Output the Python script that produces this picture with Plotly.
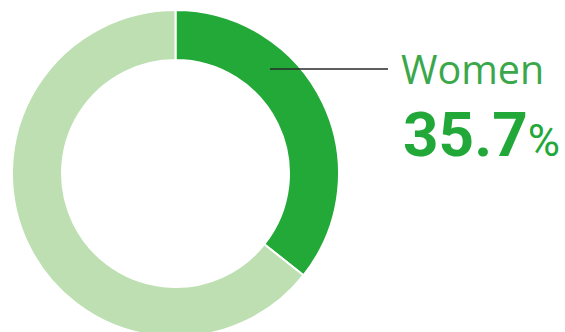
import plotly.graph_objects as go

# Share of women vs. men (percent)
labels = ["Women", "Men"]
shares = [35.7, 64.3]
slice_colors = ["#23a938", "#bddfb1"]

W, H = 565, 340

def px_x(x):
    return x / W

def px_y(y):
    return 1 - y / H

# Donut geometry in pixels
cx, cy, r_out, r_in = 175.5, 173.5, 163.5, 113.5

fig = go.Figure(
    go.Pie(
        labels=labels,
        values=shares,
        hole=r_in / r_out,
        sort=False,
        direction="clockwise",
        rotation=0,
        marker=dict(colors=slice_colors, line=dict(color="white", width=2)),
        textinfo="none",
        hoverinfo="label+percent",
        domain=dict(x=[px_x(cx - r_out), px_x(cx + r_out)],
                    y=[px_y(cy + r_out), px_y(cy - r_out)]),
        showlegend=False,
    )
)

# Leader line from the women slice to its label
fig.add_shape(type="line", xref="paper", yref="paper",
              x0=px_x(270), x1=px_x(388), y0=px_y(69), y1=px_y(69),
              line=dict(color="#2a2a2a", width=1.5))

fig.add_annotation(
    xref="paper", yref="paper", x=px_x(400), y=px_y(69),
    xanchor="left", yanchor="middle", showarrow=False,
    height=42, valign="middle", borderpad=0,
    text=labels[0],
    font=dict(family="Open Sans", size=39.5, color="#3aa84a", weight=400),
)
fig.add_annotation(
    xref="paper", yref="paper", x=px_x(402), y=px_y(134),
    xanchor="left", yanchor="middle", showarrow=False,
    height=64, valign="middle", borderpad=0,
    text=f"{shares[0]:.1f}<span style='font-size:44px;font-weight:400'>%</span>",
    font=dict(family="Roboto", size=62, color="#22a838", weight=700),
)

fig.update_layout(
    width=W, height=H,
    margin=dict(l=0, r=0, t=0, b=0),
    paper_bgcolor="white", plot_bgcolor="white",
)

fig.write_html(
    "out.html",
    post_script="document.documentElement.style.overflow='hidden';document.body.style.overflow='hidden';",
)
